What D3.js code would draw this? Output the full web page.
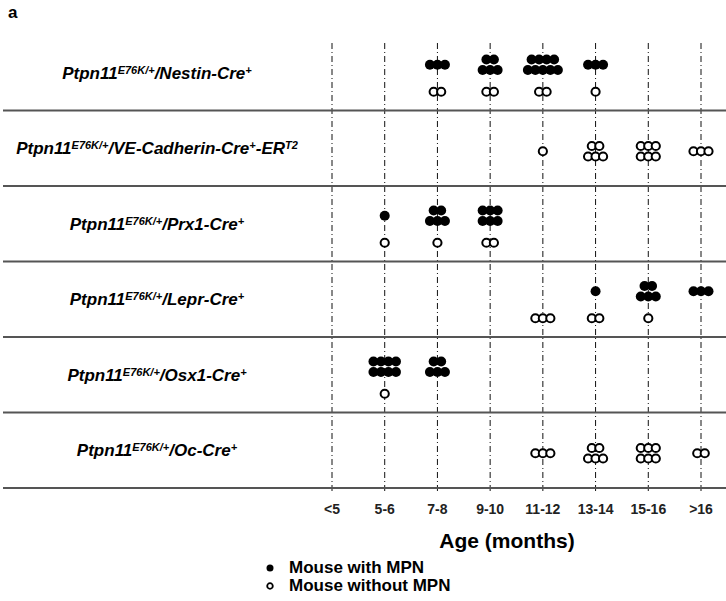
<!DOCTYPE html>
<html>
<head>
<meta charset="utf-8">
<script src="https://cdn.jsdelivr.net/npm/d3@7"></script>
<style>
  body { margin: 0; background: #fff; }
  text { font-family: "Liberation Sans", Arial, sans-serif; }
</style>
</head>
<body>
<div id="chart"></div>
<script>
// age groups on the x axis
const ages = ["<5", "5-6", "7-8", "9-10", "11-12", "13-14", "15-16", ">16"];

// genotype labels, split into [text, isSuperscript] parts
const genotypes = [
  [["Ptpn11", 0], ["E76K/+", 1], ["/Nestin-Cre", 0], ["+", 1]],
  [["Ptpn11", 0], ["E76K/+", 1], ["/VE-Cadherin-Cre", 0], ["+", 1], ["-ER", 0], ["T2", 1]],
  [["Ptpn11", 0], ["E76K/+", 1], ["/Prx1-Cre", 0], ["+", 1]],
  [["Ptpn11", 0], ["E76K/+", 1], ["/Lepr-Cre", 0], ["+", 1]],
  [["Ptpn11", 0], ["E76K/+", 1], ["/Osx1-Cre", 0], ["+", 1]],
  [["Ptpn11", 0], ["E76K/+", 1], ["/Oc-Cre", 0], ["+", 1]]
];

// number of mice per age group
const withMPN = [
  [0, 0, 3, 5, 9, 3, 0, 0],
  [0, 0, 0, 0, 0, 0, 0, 0],
  [0, 1, 5, 6, 0, 0, 0, 0],
  [0, 0, 0, 0, 0, 1, 5, 3],
  [0, 8, 5, 0, 0, 0, 0, 0],
  [0, 0, 0, 0, 0, 0, 0, 0]
];
const withoutMPN = [
  [0, 0, 2, 2, 2, 1, 0, 0],
  [0, 0, 0, 0, 1, 5, 6, 3],
  [0, 1, 1, 2, 0, 0, 0, 0],
  [0, 0, 0, 0, 3, 2, 1, 0],
  [0, 1, 0, 0, 0, 0, 0, 0],
  [0, 0, 0, 0, 3, 5, 6, 2]
];

const legendItems = ["Mouse with MPN", "Mouse without MPN"];

const width = 726;
const height = 601;

const svg = d3.select("#chart")
  .append("svg")
  .attr("width", width)
  .attr("height", height);

const x = d3.scalePoint()
  .domain(ages)
  .range([332, 701]);

const y = d3.scaleBand()
  .domain(d3.range(genotypes.length))
  .range([35, 488]);

// panel letter
svg.append("text")
  .attr("x", 8)
  .attr("y", 18)
  .attr("font-size", 17)
  .attr("font-weight", "bold")
  .text("a");

// vertical dash-dot guides
svg.append("g")
  .selectAll("line")
  .data(ages)
  .join("line")
  .attr("x1", d => x(d))
  .attr("x2", d => x(d))
  .attr("y1", 43)
  .attr("y2", 493)
  .attr("stroke", "#111")
  .attr("stroke-width", 1)
  .attr("stroke-dasharray", "6,3,1,3");

// row separators
svg.append("g")
  .selectAll("line")
  .data(d3.range(genotypes.length))
  .join("line")
  .attr("x1", 3)
  .attr("x2", width)
  .attr("y1", d => y(d) + y.bandwidth())
  .attr("y2", d => y(d) + y.bandwidth())
  .attr("stroke", "#555")
  .attr("stroke-width", 2);

// genotype labels
const labels = svg.append("g")
  .selectAll("text")
  .data(genotypes)
  .join("text")
  .attr("x", 157)
  .attr("y", (d, i) => y(i) + y.bandwidth() / 2 + 6)
  .attr("text-anchor", "middle")
  .attr("font-size", 17)
  .attr("font-weight", "bold")
  .attr("font-style", "italic");

labels.each(function(parts) {
  const t = d3.select(this);
  let raised = false;
  parts.forEach(([txt, sup]) => {
    const ts = t.append("tspan").text(txt);
    if (sup && !raised) { ts.attr("dy", -5).attr("font-size", 11); raised = true; }
    else if (sup) { ts.attr("font-size", 11); }
    else if (raised) { ts.attr("dy", 5); raised = false; }
  });
});

// dot layout: up to 3 in one line, otherwise two lines
const dx = 7.5, dy = 10.5;
function dotPositions(n) {
  const out = [];
  if (n <= 3) {
    for (let k = 0; k < n; k++) out.push([(k - (n - 1) / 2) * dx, 0]);
  } else {
    const top = Math.floor(n / 2), bot = n - top;
    for (let k = 0; k < top; k++) out.push([(k - (top - 1) / 2) * dx, -dy / 2]);
    for (let k = 0; k < bot; k++) out.push([(k - (bot - 1) / 2) * dx, dy / 2]);
  }
  return out;
}

const dots = [];
genotypes.forEach((g, i) => {
  const hasFilled = d3.sum(withMPN[i]) > 0;
  const cy = y(i) + y.bandwidth() / 2;
  const filledY = cy - 8;
  const openY = hasFilled ? cy + 19 : cy + 3;
  ages.forEach((a, j) => {
    dotPositions(withMPN[i][j]).forEach(([ox, oy]) =>
      dots.push({ x: x(a) + ox, y: filledY + oy, filled: true }));
    dotPositions(withoutMPN[i][j]).forEach(([ox, oy]) =>
      dots.push({ x: x(a) + ox, y: openY + oy, filled: false }));
  });
});

svg.append("g")
  .selectAll("circle")
  .data(dots)
  .join("circle")
  .attr("cx", d => d.x)
  .attr("cy", d => d.y)
  .attr("r", d => d.filled ? 5 : 4.1)
  .attr("fill", d => d.filled ? "#000" : "#fff")
  .attr("stroke", d => d.filled ? "none" : "#000")
  .attr("stroke-width", 2);

// tick labels
svg.append("g")
  .selectAll("text")
  .data(ages)
  .join("text")
  .attr("x", d => x(d))
  .attr("y", 514)
  .attr("text-anchor", "middle")
  .attr("font-size", 14)
  .attr("font-weight", "bold")
  .attr("fill", "#222")
  .text(d => d);

svg.append("text")
  .attr("x", 507)
  .attr("y", 548)
  .attr("text-anchor", "middle")
  .attr("font-size", 21)
  .attr("font-weight", "bold")
  .text("Age (months)");

// legend
const legend = svg.append("g")
  .selectAll("g")
  .data(legendItems)
  .join("g")
  .attr("transform", (d, i) => `translate(270,${568 + i * 18})`);

legend.append("circle")
  .attr("r", (d, i) => i === 0 ? 3.5 : 2.8)
  .attr("fill", (d, i) => i === 0 ? "#000" : "#fff")
  .attr("stroke", (d, i) => i === 0 ? "none" : "#000")
  .attr("stroke-width", 1.8);

legend.append("text")
  .attr("x", 19)
  .attr("y", 5)
  .attr("font-size", 17)
  .attr("font-weight", "bold")
  .text(d => d);
</script>
</body>
</html>
